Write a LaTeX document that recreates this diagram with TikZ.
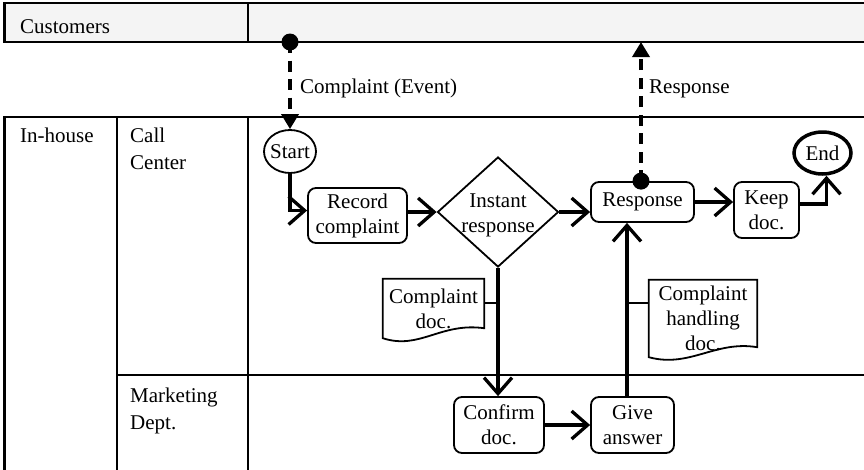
\documentclass[tikz,border=0pt]{standalone}
\usepackage{fontspec}
\setmainfont{Liberation Serif}
\usetikzlibrary{arrows.meta,shapes.geometric,calc}
\definecolor{bandgray}{HTML}{F4F4F4}
\begin{document}
\begin{tikzpicture}[x=1pt,y=-1pt,
  lane/.style={line width=2.7pt},
  lanetext/.style={font=\fontsize{21}{27}\selectfont, align=left, inner sep=0pt},
  boxtext/.style={font=\fontsize{21}{25}\selectfont, align=center, inner sep=0pt},
  procbox/.style={boxtext, draw, line width=1.8pt, rounded corners=8pt},
  docnode/.style={boxtext},
  docline/.style={line width=1.8pt, line join=miter},
  flow/.style={line width=3.3pt, -{Straight Barb[length=16pt,width=28pt]}},
  msg/.style={line width=3.5pt, dash pattern=on 11pt off 7.5pt, -{Triangle[length=15pt,width=17pt]}},
  thinlink/.style={line width=1.8pt},
  dot/.style={circle, fill, inner sep=0pt, minimum size=17pt},
]
\useasboundingbox (0,0) rectangle (864,469);

% lanes
\fill[bandgray] (4.5,3) rectangle (866,42);
\draw[lane] (866,3) -- (4.5,3) -- (4.5,42) -- (866,42);
\draw[lane] (248,3) -- (248,42);
\draw[lane] (866,117) -- (4.5,117) -- (4.5,471);
\draw[lane] (117,117) -- (117,471);
\draw[lane] (248,117) -- (248,471);
\draw[lane] (117,375) -- (866,375);

% lane labels
\node[lanetext, anchor=base west] (cust) at (20,33) {Customers};
\node[lanetext, anchor=base west] (inh) at (20,142) {In-house};
\node[lanetext, anchor=west] (cc) at (130,148.4) {Call\\Center};
\node[lanetext, anchor=west] (mk) at (130,410.7) {Marketing\\Dept.};

% process nodes
\node[draw, ellipse, line width=1.8pt, minimum width=52pt, minimum height=43pt, boxtext] (start) at (290,151.5) {\makebox[20pt]{Start}};
\node[procbox, minimum width=99pt, minimum height=55pt] (rec) at (357.5,215.5) {Record\\complaint};
\node[draw, diamond, line width=1.8pt, inner sep=0pt, minimum width=121pt, minimum height=110pt] (ir) at (498,212) {};
\node[boxtext] (irtext) at ($(ir.center)+(0,3.5)$) {Instant\\response};
\node[procbox, minimum width=103pt, minimum height=40pt] (resp) at (642.5,202) {Response};
\node[procbox, minimum width=65pt, minimum height=56pt] (keep) at (766.5,210) {Keep\\doc.};
\node[draw, ellipse, line width=3.5pt, minimum width=57pt, minimum height=42pt, boxtext] (end) at (822.5,153) {End};
\node[procbox, minimum width=90pt, minimum height=56pt] (conf) at (499,425) {Confirm\\doc.};
\node[procbox, minimum width=83pt, minimum height=56pt] (give) at (632.5,425) {Give\\answer};

% documents
\node[docnode, minimum width=101pt, minimum height=59pt] (cdoc) at (433.5,308.5) {Complaint\\doc.};
\draw[docline] (cdoc.south west) -- (cdoc.north west) -- (cdoc.north east) -- ($(cdoc.south east)+(0,-10)$)
  .. controls ($(cdoc.south east)+(-44,-16)$) and ($(cdoc.south west)+(37,12)$) .. (cdoc.south west) -- cycle;
\node[docnode, minimum width=108pt, minimum height=77pt] (chdoc) at (703,318.5) {Complaint\\handling\\doc.};
\draw[docline] (chdoc.south west) -- (chdoc.north west) -- (chdoc.north east) -- ($(chdoc.south east)+(0,-10)$)
  .. controls ($(chdoc.south east)+(-42,-17)$) and ($(chdoc.south west)+(41,11)$) .. (chdoc.south west) -- cycle;

% message flows
\node[dot] (d1) at (290,42) {};
\draw[msg] (d1.center) -- (start.north);
\node[dot] (d2) at ($(resp.north)+(-1.5,0)$) {};
\draw[msg] (d2.center) -- (d2.center |- d1.center);
\node[boxtext, anchor=base west] (l1) at (300,93) {Complaint (Event)};
\node[boxtext, anchor=base west] (l2) at (649,93) {Response};

% sequence flows
\coordinate (vx) at (627,0);
\draw[flow] (start.south) |- ($(rec.west)+(0,-5)$);
\draw[flow] (ir.west -| rec.east) -- (ir.west);
\draw[flow] (ir.east) -- (ir.east -| resp.west);
\draw[flow] (resp.east) -- (resp.east -| keep.west);
\draw[flow] ($(keep.east)+(0,-6)$) -| ($(end.south)+(4,0)$);
\draw[flow] (ir.south) -- (ir.south |- conf.north);
\draw[flow] (conf.east) -- (give.west);
\draw[flow] (vx |- give.north) -- (vx |- resp.south);
\draw[thinlink] ($(cdoc.east)+(0,-5.5)$) coordinate (c1) -- (c1 -| ir.south);
\draw[thinlink] ($(chdoc.west)+(0,-15.5)$) coordinate (c2) -- (c2 -| vx);
\end{tikzpicture}
\end{document}
